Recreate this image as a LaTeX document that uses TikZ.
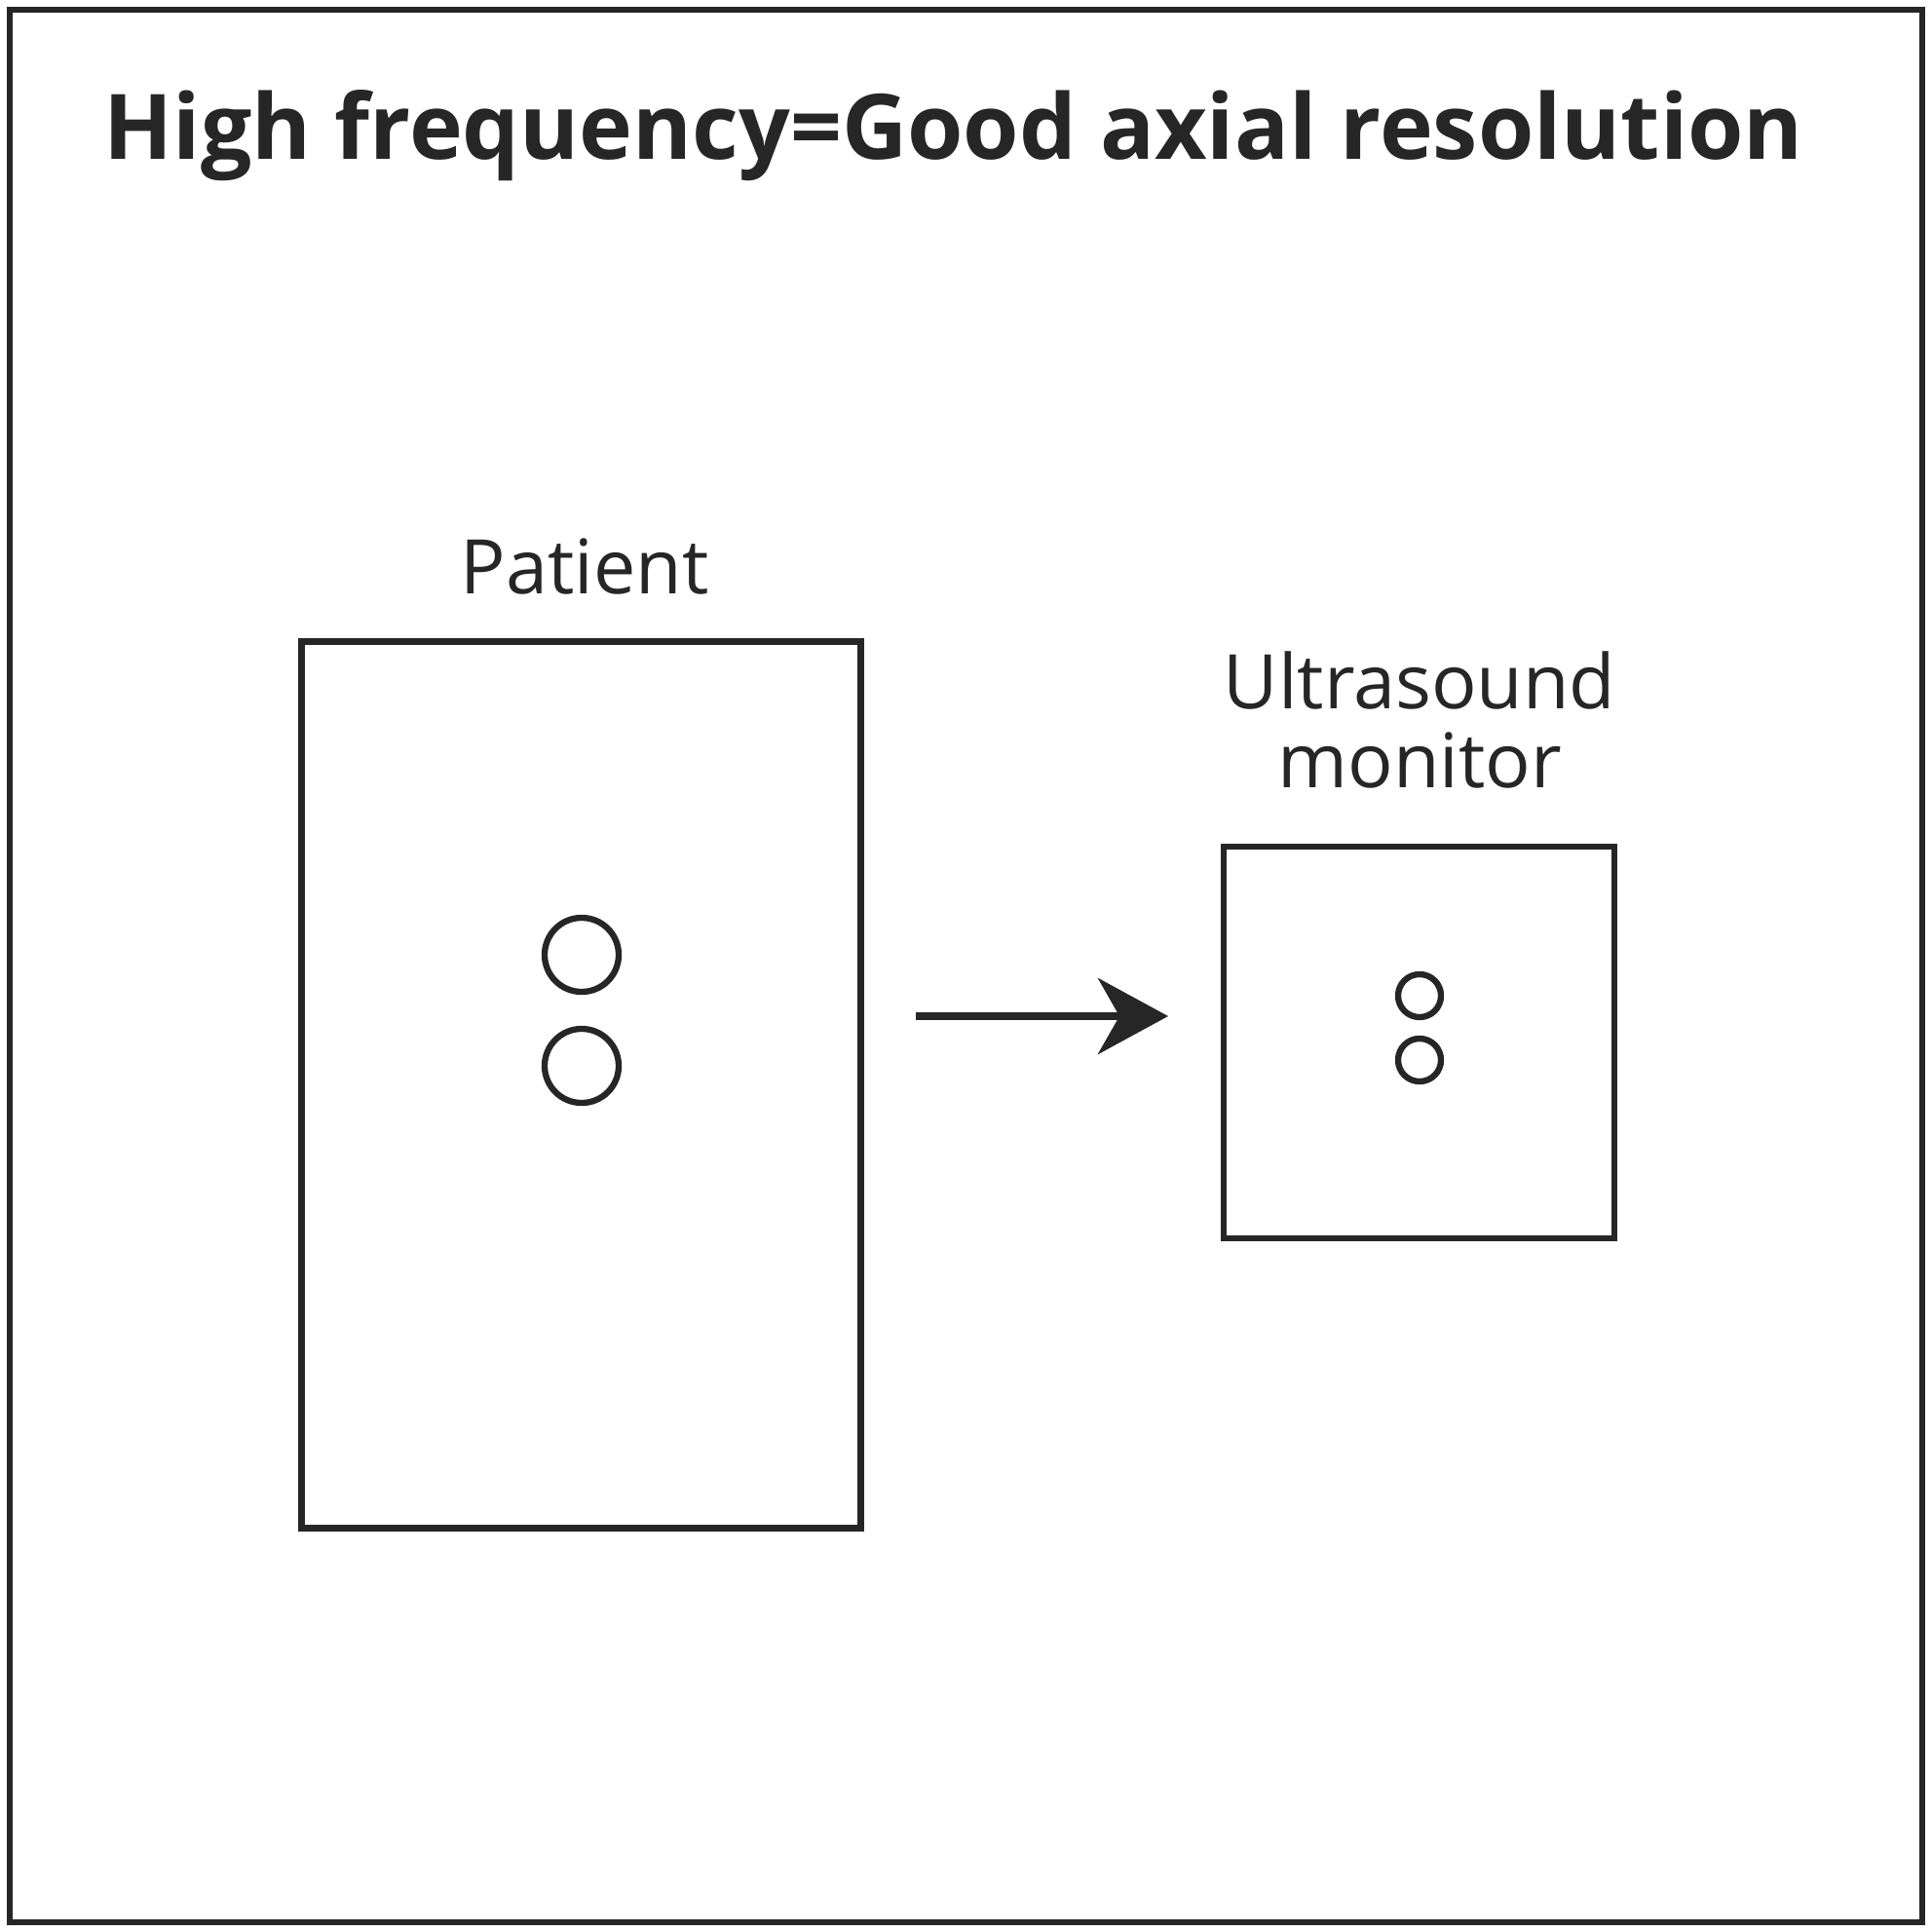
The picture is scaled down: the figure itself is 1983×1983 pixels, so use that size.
\documentclass[tikz,border=0pt]{standalone}
\usepackage{fontspec}
\setmainfont{Open Sans}
\usetikzlibrary{arrows.meta}

\tikzset{
  frame/.style={draw=black!85, line width=1.8pt},
  box/.style={draw=black!85, line width=1.9pt, inner sep=0pt},
  dot/.style={circle, draw=black!85, line width=1.8pt, inner sep=0pt},
  label/.style={text=black!85, font=\fontsize{22}{23.2}\selectfont, align=center, inner sep=0pt}
}

\begin{document}
\begin{tikzpicture}[x=0.01cm, y=-0.01cm]

    % Rahmen
    \useasboundingbox (0,0) rectangle (1983,1983);
    \draw[frame] (10,10) rectangle (1973,1973);

    % Judul
    \node[label, font=\bfseries\fontsize{26.4}{32}\selectfont, anchor=base] (title) at (979,164) {High frequency=Good axial resolution};

    % Pasien
    \node[box, minimum width=5.73cm, minimum height=9.09cm] (patient) at (596.5,1113.5) {};
    \node[label, anchor=base] (patientlbl) at (600,610) {Patient};
    \node[dot, minimum size=0.76cm] (p1) at (597,980) {};
    \node[dot, minimum size=0.76cm] (p2) at (597,1094) {};

    % Monitor
    \node[box, minimum width=4.01cm, minimum height=4.02cm] (monitor) at (1456.5,1070) {};
    \node[label, anchor=base] (monitorlbl) at (1457,809) {Ultrasound\\monitor};
    \node[dot, minimum size=0.44cm] (m1) at (1457,1022) {};
    \node[dot, minimum size=0.44cm] (m2) at (1457,1088) {};

    % Panah
    \coordinate (start) at (940,1043);
    \coordinate (end) at (1199,1043);
    \draw[black!85, line width=2pt, -{Stealth[length=0.72cm, width=0.78cm, inset=0.22cm]}] (start) -- (end);

\end{tikzpicture}
\end{document}
